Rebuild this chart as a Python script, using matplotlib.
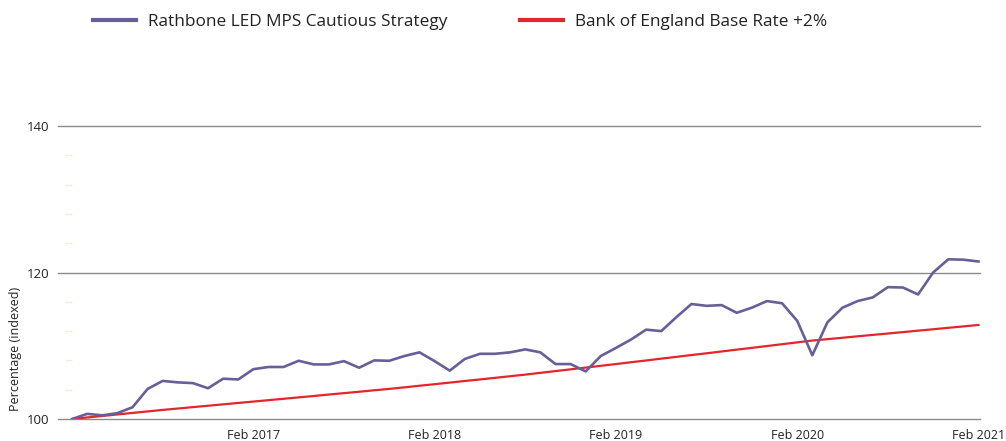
import matplotlib
matplotlib.use("Agg")
import matplotlib.pyplot as plt
from matplotlib.ticker import FixedLocator, MultipleLocator

plt.rcParams['font.family'] = ['Open Sans', 'DejaVu Sans']

# Monthly points, Feb 2016 .. Feb 2021
rathbone = [100.0, 100.7, 100.5, 100.8, 101.6, 104.1, 105.2, 105.0, 104.9, 104.2,
            105.5, 105.4, 106.8, 107.1, 107.1, 107.95, 107.45, 107.45, 107.9, 107.0,
            108.0, 107.95, 108.6, 109.1, 107.9, 106.6, 108.2, 108.9, 108.9, 109.1,
            109.5, 109.1, 107.5, 107.5, 106.5, 108.6, 109.7, 110.85, 112.2, 112.0,
            113.9, 115.7, 115.45, 115.55, 114.5, 115.2, 116.1, 115.8, 113.4, 108.7,
            113.2, 115.2, 116.1, 116.6, 118.0, 117.95, 117.0, 120.0, 121.8, 121.75,
            121.5]
boe = [100.00, 100.21, 100.41, 100.62, 100.83, 101.03, 101.24, 101.43, 101.62, 101.81,
       102.00, 102.19, 102.38, 102.57, 102.76, 102.95, 103.14, 103.34, 103.53, 103.72,
       103.92, 104.11, 104.32, 104.54, 104.75, 104.97, 105.19, 105.40, 105.62, 105.84,
       106.06, 106.30, 106.54, 106.78, 107.02, 107.26, 107.50, 107.75, 107.99, 108.24,
       108.48, 108.73, 108.97, 109.22, 109.47, 109.71, 109.96, 110.21, 110.46, 110.71,
       110.90, 111.09, 111.29, 111.48, 111.67, 111.86, 112.06, 112.25, 112.45, 112.64,
       112.84]
tick_pos = [12, 24, 36, 48, 60]
tick_labels = ["Feb 2017", "Feb 2018", "Feb 2019", "Feb 2020", "Feb 2021"]
y_ticks = [100, 120, 140]
series_names = ["Rathbone LED MPS Cautious Strategy", "Bank of England Base Rate +2%"]

W, H = 1006, 441
fig = plt.figure(figsize=(W / 100, H / 100), dpi=100)
ax = fig.add_axes([58 / W, (H - 419) / H, (980 - 58) / W, (419 - 126) / H])

x = list(range(len(rathbone)))
l1, = ax.plot(x, rathbone, color='#675f97', lw=1.9, zorder=4)
l2, = ax.plot(x, boe, color='#e3262b', lw=1.6, zorder=3)

ax.set_xlim(-0.93, 60.1)
ax.set_ylim(100, 140)

for s in ax.spines.values():
    s.set_visible(False)
ax.spines['left'].set_position(('outward', -5))

ax.yaxis.set_major_locator(FixedLocator(y_ticks))
ax.yaxis.set_minor_locator(MultipleLocator(4))
ax.grid(axis='y', which='major', color='#8a8a8a', lw=1.0, zorder=1)
for gl in ax.get_ygridlines():
    gl.set_clip_on(False)
ax.tick_params(axis='y', which='major', length=0, pad=11, labelsize=9.5, labelcolor='#222222')
ax.tick_params(axis='y', which='minor', direction='in', length=5, width=1.0, color='#f0f0d8')

ax.xaxis.set_major_locator(FixedLocator(tick_pos))
ax.set_xticklabels(tick_labels)
ax.tick_params(axis='x', length=0, pad=7, labelsize=9, labelcolor='#222222')

ax.set_ylabel("Percentage (indexed)", fontsize=9, color='#222222')
ax.yaxis.set_label_coords(-0.039, 0.24)

fig.legend([l1, l2], series_names, loc='center left',
           bbox_to_anchor=(93 / W, 1 - 22 / H), ncol=2, frameon=False,
           fontsize=12.4, handlelength=2.5, handletextpad=0.7, columnspacing=4.2,
           borderpad=0, borderaxespad=0)
leg = fig.legends[0]
for t in leg.get_texts():
    t.set_color('#222222')
for h in leg.legend_handles:
    h.set_linewidth(3)

fig.savefig("out.png", dpi=100)
